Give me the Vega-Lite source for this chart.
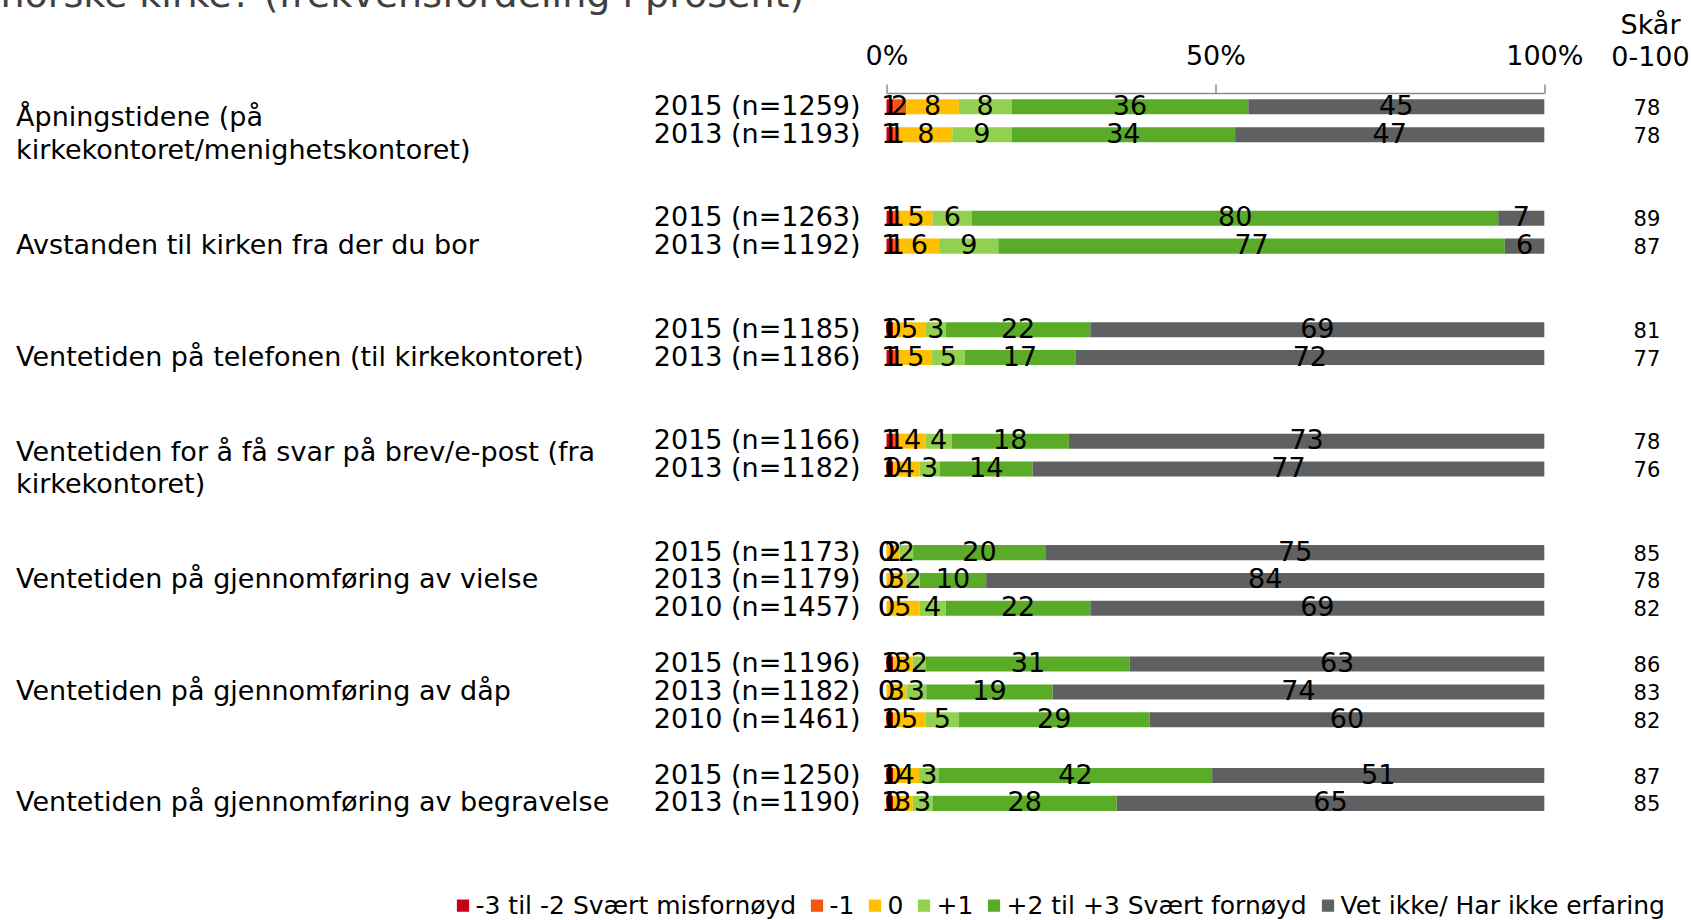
{
  "$schema": "https://vega.github.io/schema/vega-lite/v6.json",
  "autosize": {"type": "none"},
  "padding": {"left": 886.5, "top": 92.9, "right": 146.7, "bottom": 102.7},
  "width": 657.8,
  "height": 724.4,
  "background": "white",
  "title": {
    "text": "norske kirke? (frekvensfordeling i prosent)",
    "anchor": "start",
    "frame": "group",
    "fontSize": 38,
    "fontWeight": "normal",
    "color": "#404040",
    "dx": -886,
    "baseline": "alphabetic",
    "offset": -33
  },
  "config": {
    "font": "DejaVu Sans",
    "view": {"stroke": null}
  },
  "datasets": {
    "bars": [
      {"key": "q1a", "cat": "-3 til -2 Svært misfornøyd", "k": 1, "v": 1},
      {"key": "q1a", "cat": "-1", "k": 2, "v": 2},
      {"key": "q1a", "cat": "0", "k": 3, "v": 8},
      {"key": "q1a", "cat": "+1", "k": 4, "v": 8},
      {"key": "q1a", "cat": "+2 til +3 Svært fornøyd", "k": 5, "v": 36},
      {"key": "q1a", "cat": "Vet ikke/ Har ikke erfaring", "k": 6, "v": 45},
      {"key": "q1b", "cat": "-3 til -2 Svært misfornøyd", "k": 1, "v": 1},
      {"key": "q1b", "cat": "-1", "k": 2, "v": 1},
      {"key": "q1b", "cat": "0", "k": 3, "v": 8},
      {"key": "q1b", "cat": "+1", "k": 4, "v": 9},
      {"key": "q1b", "cat": "+2 til +3 Svært fornøyd", "k": 5, "v": 34},
      {"key": "q1b", "cat": "Vet ikke/ Har ikke erfaring", "k": 6, "v": 47},
      {"key": "q2a", "cat": "-3 til -2 Svært misfornøyd", "k": 1, "v": 1},
      {"key": "q2a", "cat": "-1", "k": 2, "v": 1},
      {"key": "q2a", "cat": "0", "k": 3, "v": 5},
      {"key": "q2a", "cat": "+1", "k": 4, "v": 6},
      {"key": "q2a", "cat": "+2 til +3 Svært fornøyd", "k": 5, "v": 80},
      {"key": "q2a", "cat": "Vet ikke/ Har ikke erfaring", "k": 6, "v": 7},
      {"key": "q2b", "cat": "-3 til -2 Svært misfornøyd", "k": 1, "v": 1},
      {"key": "q2b", "cat": "-1", "k": 2, "v": 1},
      {"key": "q2b", "cat": "0", "k": 3, "v": 6},
      {"key": "q2b", "cat": "+1", "k": 4, "v": 9},
      {"key": "q2b", "cat": "+2 til +3 Svært fornøyd", "k": 5, "v": 77},
      {"key": "q2b", "cat": "Vet ikke/ Har ikke erfaring", "k": 6, "v": 6},
      {"key": "q3a", "cat": "-3 til -2 Svært misfornøyd", "k": 1, "v": 1},
      {"key": "q3a", "cat": "-1", "k": 2, "v": 0},
      {"key": "q3a", "cat": "0", "k": 3, "v": 5},
      {"key": "q3a", "cat": "+1", "k": 4, "v": 3},
      {"key": "q3a", "cat": "+2 til +3 Svært fornøyd", "k": 5, "v": 22},
      {"key": "q3a", "cat": "Vet ikke/ Har ikke erfaring", "k": 6, "v": 69},
      {"key": "q3b", "cat": "-3 til -2 Svært misfornøyd", "k": 1, "v": 1},
      {"key": "q3b", "cat": "-1", "k": 2, "v": 1},
      {"key": "q3b", "cat": "0", "k": 3, "v": 5},
      {"key": "q3b", "cat": "+1", "k": 4, "v": 5},
      {"key": "q3b", "cat": "+2 til +3 Svært fornøyd", "k": 5, "v": 17},
      {"key": "q3b", "cat": "Vet ikke/ Har ikke erfaring", "k": 6, "v": 72},
      {"key": "q4a", "cat": "-3 til -2 Svært misfornøyd", "k": 1, "v": 1},
      {"key": "q4a", "cat": "-1", "k": 2, "v": 1},
      {"key": "q4a", "cat": "0", "k": 3, "v": 4},
      {"key": "q4a", "cat": "+1", "k": 4, "v": 4},
      {"key": "q4a", "cat": "+2 til +3 Svært fornøyd", "k": 5, "v": 18},
      {"key": "q4a", "cat": "Vet ikke/ Har ikke erfaring", "k": 6, "v": 73},
      {"key": "q4b", "cat": "-3 til -2 Svært misfornøyd", "k": 1, "v": 1},
      {"key": "q4b", "cat": "-1", "k": 2, "v": 0},
      {"key": "q4b", "cat": "0", "k": 3, "v": 4},
      {"key": "q4b", "cat": "+1", "k": 4, "v": 3},
      {"key": "q4b", "cat": "+2 til +3 Svært fornøyd", "k": 5, "v": 14},
      {"key": "q4b", "cat": "Vet ikke/ Har ikke erfaring", "k": 6, "v": 77},
      {"key": "q5a", "cat": "-3 til -2 Svært misfornøyd", "k": 1, "v": 0},
      {"key": "q5a", "cat": "-1", "k": 2, "v": 0},
      {"key": "q5a", "cat": "0", "k": 3, "v": 2},
      {"key": "q5a", "cat": "+1", "k": 4, "v": 2},
      {"key": "q5a", "cat": "+2 til +3 Svært fornøyd", "k": 5, "v": 20},
      {"key": "q5a", "cat": "Vet ikke/ Har ikke erfaring", "k": 6, "v": 75},
      {"key": "q5b", "cat": "-3 til -2 Svært misfornøyd", "k": 1, "v": 0},
      {"key": "q5b", "cat": "-1", "k": 2, "v": 0},
      {"key": "q5b", "cat": "0", "k": 3, "v": 3},
      {"key": "q5b", "cat": "+1", "k": 4, "v": 2},
      {"key": "q5b", "cat": "+2 til +3 Svært fornøyd", "k": 5, "v": 10},
      {"key": "q5b", "cat": "Vet ikke/ Har ikke erfaring", "k": 6, "v": 84},
      {"key": "q5c", "cat": "-3 til -2 Svært misfornøyd", "k": 1, "v": 0},
      {"key": "q5c", "cat": "-1", "k": 2, "v": 0},
      {"key": "q5c", "cat": "0", "k": 3, "v": 5},
      {"key": "q5c", "cat": "+1", "k": 4, "v": 4},
      {"key": "q5c", "cat": "+2 til +3 Svært fornøyd", "k": 5, "v": 22},
      {"key": "q5c", "cat": "Vet ikke/ Har ikke erfaring", "k": 6, "v": 69},
      {"key": "q6a", "cat": "-3 til -2 Svært misfornøyd", "k": 1, "v": 1},
      {"key": "q6a", "cat": "-1", "k": 2, "v": 0},
      {"key": "q6a", "cat": "0", "k": 3, "v": 3},
      {"key": "q6a", "cat": "+1", "k": 4, "v": 2},
      {"key": "q6a", "cat": "+2 til +3 Svært fornøyd", "k": 5, "v": 31},
      {"key": "q6a", "cat": "Vet ikke/ Har ikke erfaring", "k": 6, "v": 63},
      {"key": "q6b", "cat": "-3 til -2 Svært misfornøyd", "k": 1, "v": 0},
      {"key": "q6b", "cat": "-1", "k": 2, "v": 0},
      {"key": "q6b", "cat": "0", "k": 3, "v": 3},
      {"key": "q6b", "cat": "+1", "k": 4, "v": 3},
      {"key": "q6b", "cat": "+2 til +3 Svært fornøyd", "k": 5, "v": 19},
      {"key": "q6b", "cat": "Vet ikke/ Har ikke erfaring", "k": 6, "v": 74},
      {"key": "q6c", "cat": "-3 til -2 Svært misfornøyd", "k": 1, "v": 1},
      {"key": "q6c", "cat": "-1", "k": 2, "v": 0},
      {"key": "q6c", "cat": "0", "k": 3, "v": 5},
      {"key": "q6c", "cat": "+1", "k": 4, "v": 5},
      {"key": "q6c", "cat": "+2 til +3 Svært fornøyd", "k": 5, "v": 29},
      {"key": "q6c", "cat": "Vet ikke/ Har ikke erfaring", "k": 6, "v": 60},
      {"key": "q7a", "cat": "-3 til -2 Svært misfornøyd", "k": 1, "v": 1},
      {"key": "q7a", "cat": "-1", "k": 2, "v": 0},
      {"key": "q7a", "cat": "0", "k": 3, "v": 4},
      {"key": "q7a", "cat": "+1", "k": 4, "v": 3},
      {"key": "q7a", "cat": "+2 til +3 Svært fornøyd", "k": 5, "v": 42},
      {"key": "q7a", "cat": "Vet ikke/ Har ikke erfaring", "k": 6, "v": 51},
      {"key": "q7b", "cat": "-3 til -2 Svært misfornøyd", "k": 1, "v": 1},
      {"key": "q7b", "cat": "-1", "k": 2, "v": 0},
      {"key": "q7b", "cat": "0", "k": 3, "v": 3},
      {"key": "q7b", "cat": "+1", "k": 4, "v": 3},
      {"key": "q7b", "cat": "+2 til +3 Svært fornøyd", "k": 5, "v": 28},
      {"key": "q7b", "cat": "Vet ikke/ Har ikke erfaring", "k": 6, "v": 65}
    ],
    "rows": [
      {"key": "q1a", "lab": "2015 (n=1259)", "score": 78},
      {"key": "q1b", "lab": "2013 (n=1193)", "score": 78},
      {"key": "q2a", "lab": "2015 (n=1263)", "score": 89},
      {"key": "q2b", "lab": "2013 (n=1192)", "score": 87},
      {"key": "q3a", "lab": "2015 (n=1185)", "score": 81},
      {"key": "q3b", "lab": "2013 (n=1186)", "score": 77},
      {"key": "q4a", "lab": "2015 (n=1166)", "score": 78},
      {"key": "q4b", "lab": "2013 (n=1182)", "score": 76},
      {"key": "q5a", "lab": "2015 (n=1173)", "score": 85},
      {"key": "q5b", "lab": "2013 (n=1179)", "score": 78},
      {"key": "q5c", "lab": "2010 (n=1457)", "score": 82},
      {"key": "q6a", "lab": "2015 (n=1196)", "score": 86},
      {"key": "q6b", "lab": "2013 (n=1182)", "score": 83},
      {"key": "q6c", "lab": "2010 (n=1461)", "score": 82},
      {"key": "q7a", "lab": "2015 (n=1250)", "score": 87},
      {"key": "q7b", "lab": "2013 (n=1190)", "score": 85}
    ],
    "questions": [
      {"key": "q1b", "q": ["Åpningstidene (på", "kirkekontoret/menighetskontoret)"]},
      {"key": "q2b", "q": ["Avstanden til kirken fra der du bor"]},
      {"key": "q3b", "q": ["Ventetiden på telefonen (til kirkekontoret)"]},
      {"key": "q4b", "q": ["Ventetiden for å få svar på brev/e-post (fra", "kirkekontoret)"]},
      {"key": "q5b", "q": ["Ventetiden på gjennomføring av vielse"]},
      {"key": "q6b", "q": ["Ventetiden på gjennomføring av dåp"]},
      {"key": "q7b", "q": ["Ventetiden på gjennomføring av begravelse"]}
    ]
  },
  "encoding": {
    "y": {
      "field": "key",
      "type": "nominal",
      "axis": null,
      "scale": {
        "type": "band",
        "domain": ["q1a", "q1b", "g1", "g2", "q2a", "q2b", "g3", "g4", "q3a", "q3b", "g5", "g6", "q4a", "q4b", "g7", "g8", "q5a", "q5b", "q5c", "g9", "q6a", "q6b", "q6c", "g10", "q7a", "q7b"],
        "paddingInner": 0.46,
        "paddingOuter": 0.23
      }
    }
  },
  "layer": [
    {
      "data": {"name": "bars"},
      "mark": {"type": "bar"},
      "encoding": {
        "x": {
          "field": "v",
          "type": "quantitative",
          "stack": "normalize",
          "scale": {"domain": [0, 1], "nice": false},
          "axis": {
            "orient": "top",
            "values": [0, 0.5, 1],
            "format": ".0%",
            "grid": false,
            "labelFlush": false,
            "labelOverlap": false,
            "domainColor": "#8c8c8c",
            "domainWidth": 1.5,
            "tickColor": "#8c8c8c",
            "tickWidth": 1.5,
            "tickSize": 9,
            "labelFontSize": 27,
            "labelColor": "black",
            "labelPadding": 13,
            "title": ["Skår", "0-100"],
            "titleFontSize": 27,
            "titleFontWeight": "normal",
            "titleColor": "black",
            "titleAlign": "center",
            "titleBaseline": "alphabetic",
            "titleLineHeight": 32.4,
            "titleX": 763.5,
            "titleY": -59.4
          }
        },
        "color": {
          "field": "cat",
          "type": "nominal",
          "scale": {
            "domain": ["-3 til -2 Svært misfornøyd", "-1", "0", "+1", "+2 til +3 Svært fornøyd", "Vet ikke/ Har ikke erfaring"],
            "range": ["#C80018", "#F2570F", "#FFC000", "#92D050", "#5AAB28", "#5F6062"]
          },
          "legend": {
            "orient": "none",
            "legendX": -436,
            "legendY": 800,
            "direction": "horizontal",
            "title": null,
            "symbolType": "square",
            "symbolSize": 150,
            "symbolStrokeWidth": 0,
            "symbolOpacity": 1,
            "labelFontSize": 25,
            "labelColor": "black",
            "labelLimit": 0,
            "labelOffset": 0,
            "columnPadding": 8
          }
        },
        "order": {"field": "k", "type": "quantitative"}
      }
    },
    {
      "data": {"name": "bars"},
      "mark": {"type": "text", "fontSize": 27, "color": "black", "baseline": "middle", "align": "center"},
      "encoding": {
        "x": {"field": "v", "type": "quantitative", "stack": "normalize", "bandPosition": 0.5},
        "detail": {"field": "cat", "type": "nominal"},
        "order": {"field": "k", "type": "quantitative"},
        "text": {"field": "v", "type": "quantitative"}
      }
    },
    {
      "data": {"name": "rows"},
      "mark": {"type": "text", "fontSize": 27, "color": "black", "baseline": "middle", "align": "right"},
      "encoding": {
        "x": {"datum": -0.0394, "type": "quantitative"},
        "text": {"field": "lab", "type": "nominal"}
      }
    },
    {
      "data": {"name": "rows"},
      "mark": {"type": "text", "fontSize": 21, "color": "black", "baseline": "middle", "align": "center", "dy": 2},
      "encoding": {
        "x": {"datum": 1.156, "type": "quantitative"},
        "text": {"field": "score", "type": "quantitative"}
      }
    },
    {
      "data": {"name": "questions"},
      "transform": [{"filter": "length(datum.q) == 1"}],
      "mark": {"type": "text", "fontSize": 27, "color": "black", "baseline": "middle", "align": "left"},
      "encoding": {
        "x": {"datum": -1.3233, "type": "quantitative"},
        "text": {"field": "q"}
      }
    },
    {
      "data": {"name": "questions"},
      "transform": [{"filter": "length(datum.q) > 1"}],
      "mark": {"type": "text", "fontSize": 27, "color": "black", "baseline": "middle", "align": "left", "lineHeight": 32.4, "dy": -16.2},
      "encoding": {
        "x": {"datum": -1.3233, "type": "quantitative"},
        "text": {"field": "q"}
      }
    }
  ]
}
